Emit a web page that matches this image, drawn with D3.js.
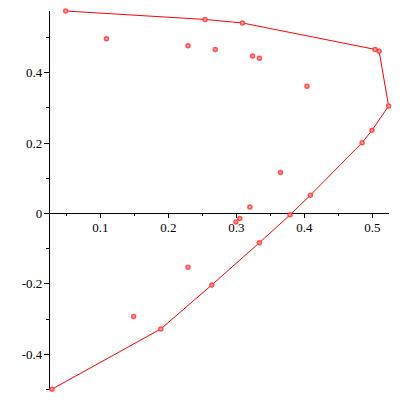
<!DOCTYPE html>
<html><head><meta charset="utf-8">
<script src="https://cdn.jsdelivr.net/npm/d3@7"></script>
<style>body{margin:0;background:#fff}svg{display:block}</style>
</head><body>
<svg id="c" width="400" height="400"></svg>
<script>
const pointX = [0.049,0.109,0.229,0.254,0.309,0.269,0.324,0.334,0.504,0.510,0.404,0.524,0.4995,0.485,0.365,0.409,0.320,0.379,0.305,0.2995,0.334,0.264,0.229,0.149,0.189,0.029];
const pointY = [0.575,0.496,0.476,0.551,0.541,0.466,0.447,0.441,0.466,0.461,0.361,0.305,0.236,0.201,0.116,0.052,0.018,-0.004,-0.014,-0.024,-0.083,-0.203,-0.153,-0.293,-0.328,-0.499];
const hullIndex = [25,24,21,20,17,15,13,12,11,9,8,4,3,0];
const xTicks = [0.1,0.2,0.3,0.4,0.5];
const xMinor = [0.05,0.15,0.25,0.35,0.45];
const yTicks = [-0.4,-0.2,0,0.2,0.4];
const yMinor = [-0.5,-0.3,-0.1,0.1,0.3,0.5];
const yTickLabels = ["-0.4","-0.2","0","0.2","0.4"];
const xTickLabels = ["0.1","0.2","0.3","0.4","0.5"];

const svg = d3.select("#c");
const x = d3.scaleLinear().domain([0.025,0.525]).range([49.3,389.3]);
const y = d3.scaleLinear().domain([-0.5,0.575]).range([389.5,11]);
const x0 = x(0.025), y0 = y(0);

const ax = svg.append("g").attr("stroke","#000").attr("stroke-width",1).attr("shape-rendering","crispEdges");
ax.append("line").attr("x1",x(0.025)).attr("x2",x(0.525)).attr("y1",y0).attr("y2",y0);
ax.append("line").attr("x1",x0).attr("x2",x0).attr("y1",y(-0.5)).attr("y2",y(0.575));
ax.selectAll(".xt").data(xTicks).join("line").attr("x1",d=>x(d)).attr("x2",d=>x(d)).attr("y1",y0).attr("y2",y0+5);
ax.selectAll(".xm").data(xMinor).join("line").attr("x1",d=>x(d)).attr("x2",d=>x(d)).attr("y1",y0).attr("y2",y0+3);
ax.selectAll(".yt").data(yTicks).join("line").attr("x1",x0-5).attr("x2",x0).attr("y1",d=>y(d)).attr("y2",d=>y(d));
ax.selectAll(".ym").data(yMinor).join("line").attr("x1",x0-3).attr("x2",x0).attr("y1",d=>y(d)).attr("y2",d=>y(d));

const lab = svg.append("g").attr("font-family","Liberation Serif, serif").attr("font-size",13).attr("fill","#000");
lab.selectAll(".xl").data(xTicks).join("text").attr("x",d=>x(d)).attr("y",y0+19).attr("text-anchor","middle").text((d,i)=>xTickLabels[i]);
lab.selectAll(".yl").data(yTicks).join("text").attr("x",x0-7).attr("y",d=>y(d)+4.5).attr("text-anchor","end").text((d,i)=>yTickLabels[i]);

const line = d3.line().x(i=>x(pointX[i])).y(i=>y(pointY[i]));
svg.append("path").attr("d",line(hullIndex)).attr("fill","none").attr("stroke","#ff0000").attr("stroke-width",1);

svg.append("g").selectAll("circle").data(pointX.map((d,i)=>i)).join("circle")
  .attr("cx",i=>x(pointX[i])).attr("cy",i=>y(pointY[i])).attr("r",2)
  .attr("fill","#ffa0a0").attr("stroke","#ff3a3a").attr("stroke-opacity",0.85).attr("stroke-width",1.5);
</script>
</body></html>
